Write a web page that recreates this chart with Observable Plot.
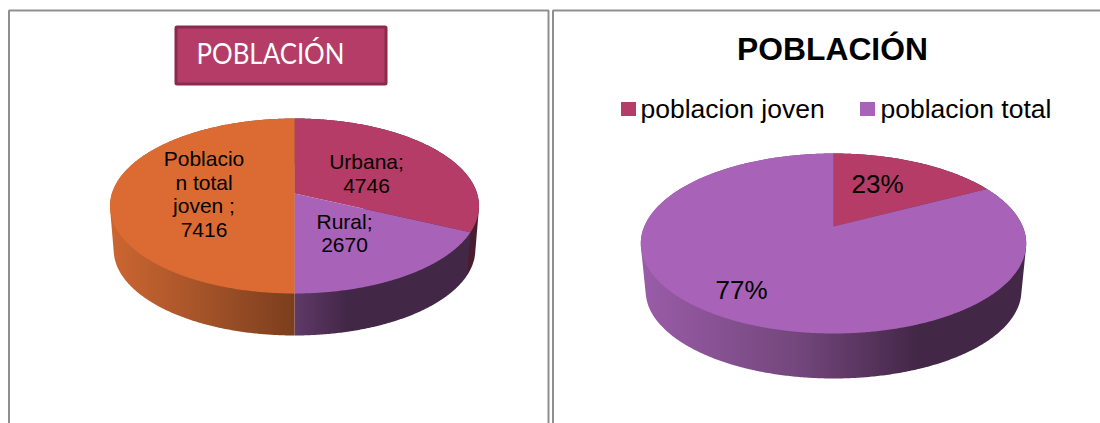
<!DOCTYPE html>
<html>
<head>
<meta charset="utf-8">
<style>html,body{margin:0;padding:0;background:#fff;overflow:hidden}svg{display:block}</style>
<script src="https://cdn.jsdelivr.net/npm/d3@7"></script>
<script src="https://cdn.jsdelivr.net/npm/@observablehq/plot@0.6"></script>
</head>
<body>
<script>
// Left pie
const leftCategories = ["Urbana", "Rural", "Poblacion total joven"];
const leftValues = [4746, 2670, 7416];
const leftLabels = ["Urbana;\n4746", "Rural;\n2670", "Poblacio\nn total\njoven ;\n7416"];
// Right pie: the printed labels say 23% / 77%; the wedge as drawn in the picture spans about 17%
const rightCategories = ["poblacion joven", "poblacion total"];
const rightDrawnShares = [17.2, 82.8];
const rightLabels = ["23%", "77%"];
const titleText = "POBLACIÓN";

const crimson = "#b43c66", purple = "#a862b8", orange = "#dc6b33";

const leftPie = {cx: 294, apex: 193, top: 75, bottom: 100, rx: 184.5, depth: 42, s: 0.98};
const rightPie = {cx: 833, apex: 226, top: 73, bottom: 107, rx: 192.7, depth: 45, s: 0.975};

function projector(p) {
  const k = (p.bottom - p.top) / (p.bottom + p.top);
  const a = p.top * (1 + k);
  const R = p.rx * Math.sqrt(1 - k * k);
  return (theta, lower) => {
    const u = Math.sin(theta), v = -Math.cos(theta), w = 1 - k * v;
    const s = lower ? p.s : 1;
    const y0 = lower ? p.apex + p.bottom * (1 - p.s) + p.depth : p.apex;
    return {x: p.cx + s * R * u / w, y: y0 + s * a * v / w};
  };
}
function arcPoints(f, a0, a1, lower) {
  const n = Math.max(2, Math.ceil((a1 - a0) * 120));
  return d3.range(n + 1).map(i => f(a0 + (a1 - a0) * i / n, lower));
}
function sideHull(f, w) {
  const pts = [...arcPoints(f, w.startAngle, w.endAngle, false), ...arcPoints(f, w.startAngle, w.endAngle, true)];
  return d3.polygonHull(pts.map(q => [q.x, q.y])).map(([x, y]) => ({x, y}));
}
function pieMarks(p, values, topColors, sideColors) {
  const f = projector(p);
  const ws = d3.pie().sort(null)(values);
  const sides = ws.map((w, i) => Plot.line(sideHull(f, w),
    {x: "x", y: "y", fill: sideColors[i], stroke: "none"}));
  const tops = ws.map((w, i) => Plot.line(
    [{x: p.cx, y: p.apex}, ...arcPoints(f, w.startAngle, w.endAngle, false)],
    {x: "x", y: "y", fill: topColors[i], stroke: "none"}));
  return [...sides, ...tops];
}
const defs = () => {
  const d = document.createElementNS("http://www.w3.org/2000/svg", "defs");
  const grad = (id, stops) => `<linearGradient id="${id}" x1="0" x2="1" y1="0" y2="0">` +
    stops.map(([o, c]) => `<stop offset="${o}" stop-color="${c}"/>`).join("") + `</linearGradient>`;
  d.innerHTML =
    grad("sideOrange", [[0, "#cc6631"], [0.45, "#a9552a"], [1, "#7b3e1d"]]) +
    grad("sidePurpleL", [[0, "#5f3a68"], [0.3, "#432747"], [1, "#432747"]]) +
    grad("sidePurpleR", [[0, "#9a5ca8"], [0.4, "#74477d"], [0.72, "#432747"], [1, "#432747"]]);
  return d;
};

const frameColor = "#8f8f8f";
const frames = [
  {x: [8.5, 8.5, 548, 548], y: [423, 10, 10, 423]},
  {x: [552.5, 552.5, 1100], y: [423, 10, 10]}
].map(o => Plot.line(o.x.map((x, i) => ({x, y: o.y[i]})), {x: "x", y: "y", stroke: frameColor, strokeWidth: 2, curve: "linear", strokeLinejoin: "miter"}));

const labelFont = "Liberation Sans, Arial, sans-serif";
const fitTitle = (index, scales, values, dimensions, context, next) => {
  const g = next(index, scales, values, dimensions, context);
  g.querySelectorAll("text").forEach(t => {
    t.setAttribute("textLength", 148);
    t.setAttribute("lengthAdjust", "spacingAndGlyphs");
  });
  return g;
};

const chart = Plot.plot({
  width: 1100,
  height: 423,
  margin: 0,
  x: {domain: [0, 1100], range: [0, 1100], axis: null},
  y: {domain: [0, 423], range: [0, 423], axis: null},
  style: {background: "#fff"},
  marks: [
    defs,
    ...frames,
    // left title box
    Plot.rect([titleText], {x1: () => 176, x2: () => 386, y1: () => 27, y2: () => 84, fill: crimson, stroke: "#8a2a4c", strokeWidth: 3, rx: 1}),
    Plot.text([titleText], {x: () => 196, y: () => 54, text: d => d, textAnchor: "start", fill: "#fff", fontSize: 29, fontFamily: "Lato, sans-serif", render: fitTitle}),
    // left pie
    ...pieMarks(leftPie, leftValues, [crimson, purple, orange], ["#4a1c30", "url(#sidePurpleL)", "url(#sideOrange)"]),
    Plot.text(leftLabels, {x: (d, i) => [366, 344, 203.5][i], y: (d, i) => [173, 232.5, 193.5][i], text: d => d, fill: "#000", fontSize: 21, lineHeight: 1.12, fontFamily: labelFont}),
    // right title + legend
    Plot.text([titleText], {x: () => 832, y: () => 49, text: d => d, fill: "#000", fontSize: 31.8, fontWeight: "bold", fontFamily: labelFont}),
    Plot.rect(rightCategories, {x1: (d, i) => [621, 860][i], x2: (d, i) => [636, 875][i], y1: () => 102, y2: () => 116, fill: (d, i) => [crimson, purple][i], stroke: "none"}),
    Plot.text(rightCategories, {x: (d, i) => [640, 880][i], y: () => 109, text: d => d, textAnchor: "start", fill: "#000", fontSize: 26.5, fontFamily: labelFont}),
    // right pie
    ...pieMarks(rightPie, rightDrawnShares, [crimson, purple], ["#4a1c30", "url(#sidePurpleR)"]),
    Plot.text(rightLabels, {x: (d, i) => [877, 741][i], y: (d, i) => [184, 290][i], text: d => d, fill: "#000", fontSize: 26, fontFamily: labelFont})
  ]
});
document.body.appendChild(chart);
</script>
</body>
</html>
